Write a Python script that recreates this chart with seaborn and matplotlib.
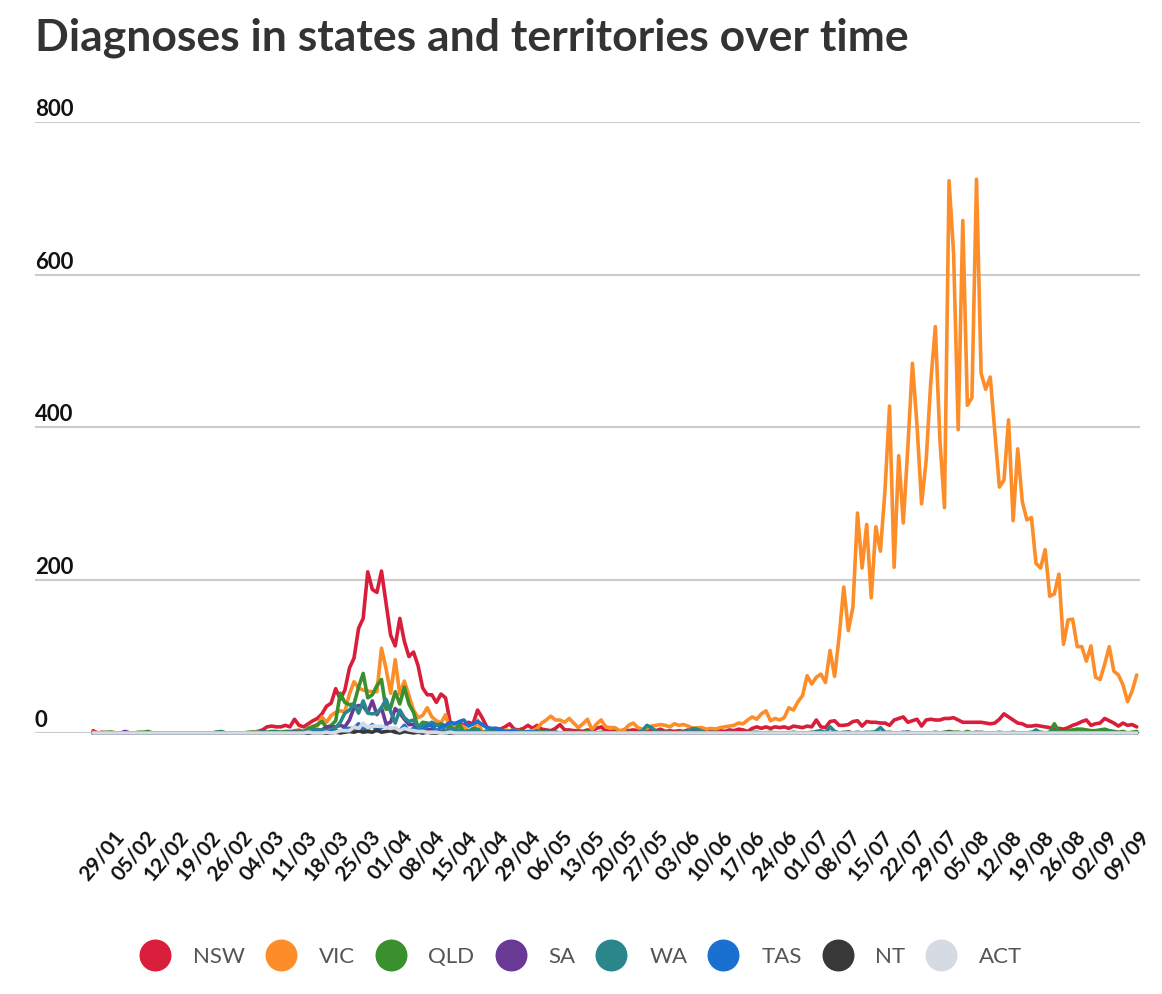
import pandas as pd
import seaborn as sns
import matplotlib.pyplot as plt
from matplotlib.lines import Line2D
from matplotlib.transforms import ScaledTranslation

# daily diagnoses, one row per week starting 25/01/2020, last row 05/09-09/09
nsw = [
    3, 0, 1, 0, 0, 0, 0,
    0, 0, 0, 0, 0, 0, 0,
    0, 0, 0, 0, 0, 0, 0,
    0, 0, 0, 0, 0, 0, 0,
    0, 0, 0, 0, 0, 0, 0,
    1, 2, 4, 8, 9, 8, 8,
    10, 8, 18, 10, 8, 12, 16,
    19, 25, 35, 39, 58, 44, 56,
    85, 98, 137, 150, 211, 188, 184,
    212, 170, 128, 114, 150, 120, 100,
    106, 88, 59, 50, 50, 40, 51,
    46, 14, 12, 13, 10, 14, 12,
    30, 20, 8, 5, 6, 5, 8,
    12, 5, 4, 6, 10, 6, 10,
    5, 4, 3, 6, 11, 4, 4,
    3, 3, 2, 4, 3, 6, 8,
    3, 2, 3, 2, 4, 3, 4,
    3, 2, 3, 4, 3, 5, 2,
    3, 2, 3, 2, 4, 2, 3,
    4, 2, 3, 5, 3, 2, 4,
    3, 5, 4, 2, 6, 8, 6,
    8, 6, 8, 7, 8, 6, 9,
    8, 7, 9, 8, 17, 8, 7,
    15, 16, 10, 10, 11, 15, 16,
    9, 15, 14, 14, 13, 13, 10,
    17, 19, 21, 14, 16, 18, 9,
    17, 18, 17, 17, 19, 19, 20,
    17, 14, 14, 14, 14, 14, 13,
    12, 13, 18, 25, 21, 17, 13,
    12, 9, 9, 10, 9, 8, 7,
    5, 6, 5, 7, 10, 12, 15,
    17, 10, 12, 13, 19, 16, 13,
    9, 13, 10, 11, 8,
]

vic = [
    1, 0, 0, 0, 1, 0, 0,
    1, 0, 0, 0, 0, 0, 0,
    0, 0, 0, 0, 0, 0, 0,
    0, 0, 0, 0, 0, 0, 0,
    0, 0, 0, 0, 0, 0, 0,
    1, 2, 1, 0, 1, 0, 1,
    1, 0, 3, 4, 0, 6, 9,
    9, 21, 14, 23, 27, 29, 28,
    51, 67, 59, 56, 55, 54, 54,
    111, 84, 52, 96, 51, 68, 49,
    30, 20, 23, 33, 21, 16, 13,
    24, 3, 13, 10, 8, 2, 1,
    17, 1, 3, 2, 3, 1, 4,
    3, 4, 2, 1, 1, 3, 6,
    13, 17, 22, 17, 17, 14, 19,
    13, 7, 12, 18, 4, 12, 17,
    8, 7, 7, 3, 4, 10, 13,
    7, 5, 6, 9, 10, 11, 10,
    8, 12, 10, 11, 9, 6, 7,
    7, 5, 6, 5, 7, 8, 9,
    10, 13, 12, 17, 21, 18, 25,
    29, 16, 19, 17, 20, 33, 30,
    41, 49, 75, 64, 73, 77, 66,
    108, 74, 127, 191, 134, 165, 288,
    216, 273, 177, 270, 238, 317, 428,
    217, 363, 275, 374, 484, 403, 300,
    357, 459, 532, 384, 295, 723, 627,
    397, 671, 429, 439, 725, 471, 450,
    466, 394, 322, 331, 410, 278, 372,
    303, 279, 282, 222, 216, 240, 179,
    182, 208, 116, 148, 149, 113, 113,
    94, 114, 73, 70, 90, 113, 81,
    76, 63, 41, 55, 76,
]

qld = [
    0, 0, 0, 1, 1, 0, 0,
    0, 0, 0, 1, 1, 2, 0,
    0, 0, 0, 0, 0, 0, 0,
    0, 0, 0, 0, 0, 0, 1,
    2, 0, 0, 0, 0, 0, 1,
    1, 0, 2, 1, 2, 2, 1,
    2, 2, 2, 3, 2, 6, 8,
    11, 15, 7, 10, 16, 52, 40,
    37, 38, 60, 78, 46, 50, 62,
    70, 31, 33, 54, 38, 60, 38,
    27, 7, 14, 13, 9, 10, 12,
    9, 9, 4, 11, 1, 2, 6,
    5, 0, 1, 2, 3, 0, 2,
    1, 0, 1, 2, 0, 1, 3,
    1, 2, 0, 1, 0, 0, 1,
    0, 1, 0, 2, 0, 0, 1,
    0, 0, 1, 0, 0, 1, 0,
    0, 0, 1, 0, 0, 0, 1,
    0, 0, 1, 0, 0, 0, 0,
    0, 0, 0, 1, 0, 0, 0,
    0, 0, 0, 0, 1, 0, 0,
    0, 1, 0, 0, 0, 0, 1,
    0, 0, 0, 1, 0, 0, 1,
    0, 1, 0, 0, 1, 0, 0,
    0, 0, 1, 0, 0, 0, 1,
    0, 0, 0, 1, 0, 0, 0,
    0, 0, 0, 0, 1, 2, 1,
    1, 0, 2, 0, 0, 1, 0,
    0, 0, 1, 0, 0, 1, 0,
    0, 0, 1, 0, 1, 0, 1,
    12, 2, 1, 3, 4, 5, 5,
    4, 3, 3, 4, 5, 3, 2,
    1, 2, 0, 1, 2,
]

sa = [
    0, 0, 0, 0, 0, 0, 0,
    2, 0, 0, 0, 0, 0, 0,
    0, 0, 0, 0, 0, 0, 0,
    0, 0, 0, 0, 0, 0, 0,
    0, 0, 0, 0, 0, 0, 0,
    0, 0, 1, 0, 0, 0, 0,
    0, 1, 2, 0, 1, 0, 3,
    4, 4, 8, 8, 8, 10, 8,
    17, 33, 36, 35, 27, 42, 24,
    33, 12, 14, 32, 26, 18, 11,
    11, 4, 0, 4, 5, 1, 1,
    2, 0, 1, 0, 0, 0, 1,
    0, 0, 0, 0, 0, 1, 0,
    0, 0, 0, 0, 0, 0, 0,
    0, 0, 0, 0, 0, 0, 0,
    0, 0, 0, 0, 0, 0, 0,
    0, 0, 0, 0, 0, 0, 0,
    0, 0, 0, 0, 0, 0, 0,
    0, 0, 0, 0, 0, 0, 0,
    0, 0, 0, 0, 0, 0, 0,
    0, 0, 0, 0, 0, 0, 0,
    0, 0, 0, 0, 0, 0, 0,
    0, 0, 0, 0, 0, 0, 0,
    0, 0, 0, 0, 0, 0, 0,
    0, 0, 0, 0, 0, 0, 0,
    0, 0, 0, 1, 0, 0, 0,
    0, 0, 0, 0, 0, 1, 0,
    0, 0, 0, 0, 1, 0, 0,
    0, 0, 0, 0, 0, 0, 0,
    0, 0, 0, 0, 0, 0, 0,
    0, 0, 0, 0, 0, 0, 0,
    0, 0, 0, 0, 0, 0, 0,
    0, 0, 0, 0, 0,
]

wa = [
    0, 0, 0, 0, 0, 0, 0,
    0, 0, 0, 0, 0, 0, 0,
    0, 0, 0, 0, 0, 0, 0,
    0, 0, 0, 0, 0, 0, 1,
    1, 0, 0, 0, 0, 0, 0,
    0, 1, 0, 0, 1, 0, 0,
    0, 1, 1, 0, 2, 0, 5,
    4, 4, 3, 4, 7, 14, 26,
    30, 38, 26, 42, 26, 25, 26,
    33, 44, 28, 13, 30, 20, 15,
    17, 7, 10, 11, 14, 11, 8,
    3, 6, 3, 4, 1, 3, 3,
    4, 0, 2, 0, 1, 2, 1,
    0, 1, 0, 0, 1, 0, 0,
    0, 0, 1, 0, 0, 0, 0,
    0, 0, 0, 0, 1, 0, 0,
    0, 0, 0, 0, 0, 0, 0,
    0, 3, 10, 7, 2, 1, 0,
    1, 0, 0, 1, 2, 6, 5,
    2, 0, 1, 0, 0, 0, 1,
    0, 0, 0, 0, 0, 1, 0,
    0, 0, 0, 0, 0, 0, 0,
    0, 0, 0, 0, 2, 3, 0,
    8, 2, 0, 1, 0, 0, 1,
    0, 1, 0, 2, 7, 1, 0,
    0, 0, 1, 0, 0, 0, 0,
    0, 0, 1, 0, 0, 0, 0,
    0, 0, 0, 0, 0, 0, 0,
    0, 0, 0, 0, 0, 0, 0,
    0, 0, 0, 4, 0, 0, 0,
    2, 0, 0, 0, 0, 0, 0,
    0, 0, 0, 0, 0, 1, 0,
    0, 0, 0, 0, 0,
]

tas = [
    0, 0, 0, 0, 0, 0, 0,
    0, 0, 0, 0, 0, 0, 0,
    0, 0, 0, 0, 0, 0, 0,
    0, 0, 0, 0, 0, 0, 0,
    0, 0, 0, 0, 0, 0, 0,
    0, 0, 1, 0, 0, 1, 0,
    0, 0, 0, 0, 1, 0, 1,
    0, 1, 0, 3, 3, 2, 5,
    6, 6, 12, 5, 5, 11, 3,
    7, 9, 4, 3, 3, 10, 2,
    6, 3, 5, 9, 11, 2, 8,
    10, 14, 12, 15, 17, 9, 12,
    15, 11, 7, 6, 6, 4, 2,
    2, 4, 1, 0, 2, 1, 1,
    0, 1, 0, 1, 0, 0, 0,
    0, 0, 0, 0, 0, 0, 0,
    0, 0, 0, 0, 0, 0, 0,
    0, 0, 0, 0, 0, 0, 0,
    0, 0, 0, 0, 0, 0, 0,
    0, 0, 0, 0, 0, 0, 0,
    0, 0, 0, 0, 0, 0, 0,
    0, 0, 0, 0, 0, 0, 0,
    0, 0, 0, 0, 0, 0, 0,
    0, 0, 0, 0, 0, 0, 0,
    0, 0, 0, 0, 0, 0, 0,
    0, 0, 0, 0, 0, 0, 0,
    0, 0, 0, 0, 0, 0, 0,
    0, 0, 0, 0, 0, 0, 0,
    0, 0, 0, 0, 0, 0, 0,
    0, 0, 0, 0, 0, 0, 0,
    0, 0, 0, 0, 0, 0, 0,
    0, 0, 0, 0, 0, 0, 0,
    0, 0, 0, 0, 0,
]

nt = [
    0, 0, 0, 0, 0, 0, 0,
    0, 0, 0, 0, 0, 0, 0,
    0, 0, 0, 0, 0, 0, 0,
    0, 0, 0, 0, 0, 0, 0,
    0, 0, 0, 0, 0, 0, 0,
    0, 0, 0, 0, 0, 0, 0,
    0, 0, 0, 0, 0, 0, 0,
    0, 0, 0, 0, 1, 0, 1,
    2, 1, 3, 1, 2, 1, 4,
    1, 2, 3, 1, 0, 2, 1,
    0, 1, 0, 1, 0, 0, 1,
    0, 0, 0, 0, 0, 0, 0,
    0, 0, 0, 0, 0, 0, 0,
    0, 0, 0, 0, 0, 0, 0,
    0, 0, 0, 0, 0, 0, 0,
    0, 0, 0, 0, 0, 0, 0,
    0, 0, 0, 0, 0, 0, 0,
    0, 0, 0, 0, 0, 0, 0,
    0, 0, 0, 0, 0, 0, 0,
    0, 0, 0, 0, 0, 0, 0,
    0, 0, 0, 0, 0, 0, 0,
    0, 0, 0, 0, 0, 0, 0,
    0, 0, 0, 0, 0, 0, 0,
    0, 0, 0, 0, 1, 0, 0,
    0, 0, 0, 0, 0, 0, 0,
    0, 0, 0, 0, 0, 0, 0,
    0, 0, 0, 0, 0, 0, 0,
    0, 0, 0, 0, 0, 0, 0,
    0, 0, 0, 0, 0, 0, 0,
    0, 0, 0, 0, 0, 0, 0,
    0, 0, 0, 0, 0, 0, 0,
    0, 0, 0, 0, 0, 0, 0,
    0, 0, 0, 0, 0,
]

act = [
    0, 0, 0, 0, 0, 0, 0,
    0, 0, 0, 0, 0, 0, 0,
    0, 0, 0, 0, 0, 0, 0,
    0, 0, 0, 0, 0, 0, 0,
    0, 0, 0, 0, 0, 0, 0,
    0, 0, 0, 0, 0, 0, 0,
    0, 0, 0, 0, 0, 1, 0,
    0, 0, 1, 0, 1, 3, 3,
    3, 8, 6, 13, 7, 9, 9,
    9, 7, 6, 7, 3, 6, 4,
    3, 2, 2, 1, 1, 1, 0,
    0, 1, 0, 0, 0, 0, 0,
    0, 0, 0, 0, 0, 0, 0,
    0, 0, 0, 0, 0, 0, 0,
    0, 0, 0, 0, 0, 0, 0,
    0, 0, 0, 0, 0, 0, 0,
    0, 0, 0, 0, 0, 0, 0,
    0, 0, 0, 0, 0, 0, 0,
    0, 0, 0, 0, 0, 0, 0,
    0, 0, 0, 0, 0, 0, 0,
    0, 0, 0, 0, 0, 0, 0,
    0, 0, 0, 0, 0, 0, 0,
    0, 0, 0, 0, 0, 0, 0,
    0, 0, 0, 0, 0, 0, 0,
    0, 0, 0, 0, 0, 0, 0,
    0, 0, 0, 0, 0, 0, 0,
    0, 0, 0, 0, 0, 0, 0,
    0, 0, 0, 0, 0, 0, 0,
    0, 0, 0, 0, 0, 0, 0,
    0, 0, 0, 0, 0, 0, 0,
    0, 0, 0, 0, 0, 0, 0,
    0, 0, 0, 0, 0, 0, 0,
    0, 0, 0, 0, 0,
]

states = ["NSW", "VIC", "QLD", "SA", "WA", "TAS", "NT", "ACT"]
colors = ["#d91e3c", "#fd8d28", "#3a902e", "#6a3996",
          "#29878c", "#1a70d0", "#383838", "#d5dae3"]
y_ticks = [0, 200, 400, 600, 800]

dates = pd.date_range("2020-01-25", "2020-09-09", freq="D")
wide = pd.DataFrame(
    {"NSW": nsw, "VIC": vic, "QLD": qld, "SA": sa,
     "WA": wa, "TAS": tas, "NT": nt, "ACT": act},
    index=dates,
)
wide.index.name = "date"
df = wide.reset_index().melt(id_vars="date", var_name="state", value_name="cases")
palette = dict(zip(states, colors))

sns.set_theme(style="white")
plt.rcParams["font.family"] = ["Lato", "DejaVu Sans"]

fig = plt.figure(figsize=(11.62, 9.94), dpi=100)
ax = fig.add_axes([0.0301, 0.2626, 0.9509, 0.6147])

sns.lineplot(data=df, x="date", y="cases", hue="state", hue_order=states,
             palette=palette, linewidth=2.6, legend=False, errorbar=None, ax=ax)
for line in ax.lines:
    line.set_clip_on(False)

ax.set_xlim(dates[0] - pd.Timedelta(days=12.7), dates[-1] + pd.Timedelta(days=0.7))
ax.set_ylim(0, 800)
ax.set_xlabel("")
ax.set_ylabel("")
sns.despine(ax=ax, left=True, bottom=True)

ax.yaxis.grid(True, color="#cccccc", linewidth=1.5)
ax.xaxis.grid(False)
ax.set_axisbelow(True)

# y labels sit above the gridlines, flush left
ax.set_yticks(y_ticks)
ax.set_yticklabels([str(v) for v in y_ticks], fontsize=16, fontweight="bold", color="#111111")
ax.tick_params(axis="y", length=0, pad=0)
up = ScaledTranslation(0, 6 / 100, fig.dpi_scale_trans)
for lab in ax.get_yticklabels():
    lab.set_horizontalalignment("left")
    lab.set_verticalalignment("baseline")
    lab.set_transform(lab.get_transform() + up)

# weekly date ticks
tick_dates = pd.date_range("2020-01-29", "2020-09-09", freq="7D")
ax.set_xticks(tick_dates)
ax.set_xticklabels([d.strftime("%d/%m") for d in tick_dates], fontsize=15,
                   fontweight="bold", color="#111111")
ax.tick_params(axis="x", length=0, pad=72)
shift = ScaledTranslation(9 / 100, 0, fig.dpi_scale_trans)
for lab in ax.get_xticklabels():
    lab.set_rotation(50)
    lab.set_horizontalalignment("right")
    lab.set_verticalalignment("center")
    lab.set_rotation_mode("anchor")
    lab.set_transform(lab.get_transform() + shift)

fig.text(35 / 1162, 1 - 50 / 994, "Diagnoses in states and territories over time",
         fontsize=32, fontweight="bold", color="#333333", ha="left", va="baseline")

handles = [Line2D([], [], marker="o", linestyle="", markersize=22, color=c) for c in colors]
leg = fig.legend(handles, states, loc="center", bbox_to_anchor=(0.5, 1 - 957 / 994),
                 ncol=8, frameon=False, fontsize=16, handlelength=1.4,
                 handletextpad=1.0, columnspacing=0.92)
for t in leg.get_texts():
    t.set_color("#555555")

fig.savefig("out.png", dpi=100)
